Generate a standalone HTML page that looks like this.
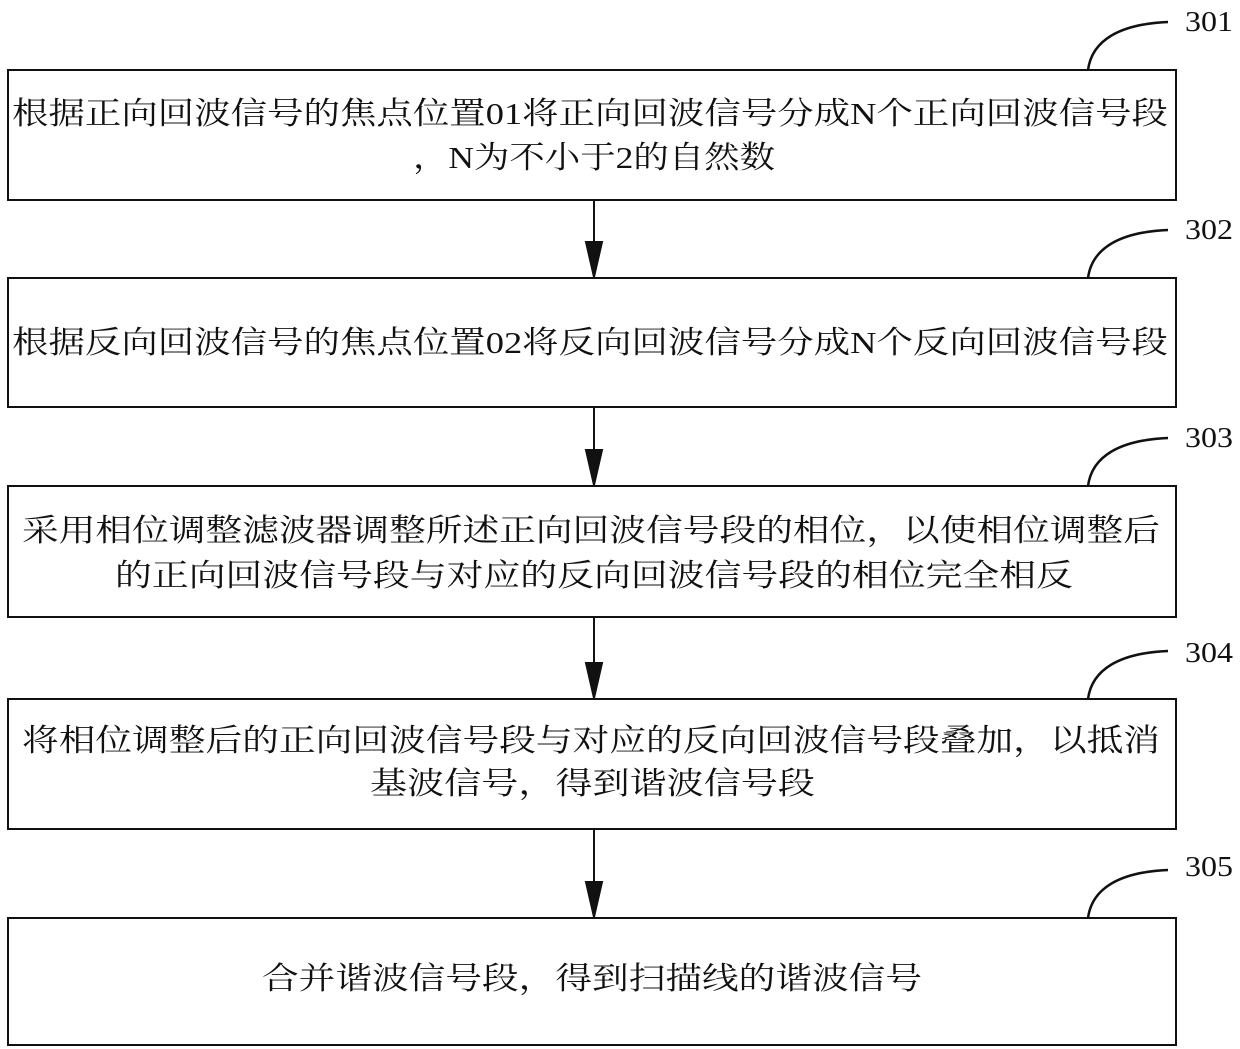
<!DOCTYPE html>
<html><head><meta charset="utf-8"><style>
html,body{margin:0;padding:0;background:#fff;}
svg{display:block;}
text{font-family:"Liberation Serif","Noto Serif CJK SC",serif;fill:#111;}
.t{font-size:31px;}
.n{font-size:28px;}
</style></head><body>
<svg width="1240" height="1049" viewBox="0 0 1240 1049" xmlns="http://www.w3.org/2000/svg">
<defs><marker id="a" markerWidth="16" markerHeight="28" refX="8" refY="28" orient="auto" markerUnits="userSpaceOnUse"><path d="M0,0 L16,0 L8,28 Z" fill="#111"/></marker></defs>
<g fill="none" stroke="#111" stroke-width="2">
<rect x="8" y="70" width="1168" height="130"/>
<rect x="8" y="278" width="1168" height="129"/>
<rect x="8" y="486" width="1168" height="131"/>
<rect x="8" y="699" width="1168" height="130"/>
<rect x="8" y="918" width="1168" height="127"/>
</g>
<g stroke="#111" stroke-width="2">
<line x1="594" y1="200" x2="594" y2="242"/><path d="M586,242 L602,242 L594,277 Z" fill="#111"/>
<line x1="594" y1="407" x2="594" y2="450"/><path d="M586,450 L602,450 L594,485 Z" fill="#111"/>
<line x1="594" y1="617" x2="594" y2="663"/><path d="M586,663 L602,663 L594,698 Z" fill="#111"/>
<line x1="594" y1="829" x2="594" y2="882"/><path d="M586,882 L602,882 L594,917 Z" fill="#111"/>
</g>
<g fill="none" stroke="#111" stroke-width="2.5">
<path d="M1088,70 C1092,40 1120,24 1168,22"/>
<path d="M1088,278 C1092,248 1120,232 1168,230"/>
<path d="M1088,486 C1092,456 1120,440 1168,438"/>
<path d="M1088,699 C1092,669 1120,653 1168,651"/>
<path d="M1088,918 C1092,888 1120,872 1168,870"/>
</g>
<text class="n" x="1185" y="31" textLength="48" lengthAdjust="spacingAndGlyphs">301</text>
<text class="n" x="1185" y="239" textLength="48" lengthAdjust="spacingAndGlyphs">302</text>
<text class="n" x="1185" y="447" textLength="48" lengthAdjust="spacingAndGlyphs">303</text>
<text class="n" x="1185" y="662" textLength="48" lengthAdjust="spacingAndGlyphs">304</text>
<text class="n" x="1185" y="876" textLength="48" lengthAdjust="spacingAndGlyphs">305</text>

<text class="t" x="12" y="124" textLength="1156" lengthAdjust="spacingAndGlyphs">根据正向回波信号的焦点位置01将正向回波信号分成N个正向回波信号段</text>
<text class="t" x="413" y="168" textLength="362" lengthAdjust="spacingAndGlyphs">，N为不小于2的自然数</text>
<text class="t" x="12" y="353" textLength="1156" lengthAdjust="spacingAndGlyphs">根据反向回波信号的焦点位置02将反向回波信号分成N个反向回波信号段</text>
<text class="t" x="22" y="541" textLength="1138" lengthAdjust="spacingAndGlyphs">采用相位调整滤波器调整所述正向回波信号段的相位，以使相位调整后</text>
<text class="t" x="115" y="586" textLength="958" lengthAdjust="spacingAndGlyphs">的正向回波信号段与对应的反向回波信号段的相位完全相反</text>
<text class="t" x="22" y="751" textLength="1138" lengthAdjust="spacingAndGlyphs">将相位调整后的正向回波信号段与对应的反向回波信号段叠加，以抵消</text>
<text class="t" x="370" y="794" textLength="445" lengthAdjust="spacingAndGlyphs">基波信号，得到谐波信号段</text>
<text class="t" x="262" y="989" textLength="660" lengthAdjust="spacingAndGlyphs">合并谐波信号段，得到扫描线的谐波信号</text>
</svg>
</body></html>
